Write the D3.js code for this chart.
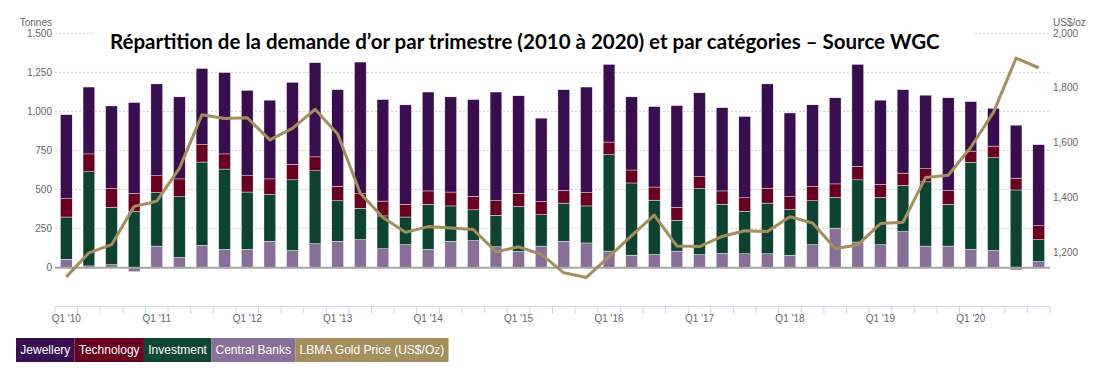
<!DOCTYPE html>
<html>
<head>
<meta charset="utf-8">
<script src="https://cdn.jsdelivr.net/npm/d3@7"></script>
<style>
  body { margin: 0; background: #fff; }
  svg { display: block; font-family: "Liberation Sans", Arial, sans-serif; }
</style>
</head>
<body>
<svg id="chart" width="1108" height="371"></svg>
<script>
// quarters Q1 2010 .. Q4 2020
const years = ['10', '11', '12', '13', '14', '15', '16', '17', '18', '19', '20'];
const quarters = [];
years.forEach(y => ['Q1', 'Q2', 'Q3', 'Q4'].forEach(q => quarters.push(q + " '" + y)));

// tonnes
const centralBanks = [54,11,19,-26,138,65,143,117,117,169,110,153,169,179,121,147,117,169,173,134,104,138,169,158,106,80,84,106,84,91,89,89,80,147,253,164,147,231,138,138,117,110,-15,39];
const investment = [270,603,368,361,342,389,533,514,367,300,452,467,259,201,210,177,289,226,197,201,287,201,244,237,618,462,348,197,422,315,272,324,292,281,196,398,302,296,411,268,557,594,497,140];
const technology = [117,114,119,114,108,114,111,97,104,99,99,89,93,93,95,82,85,89,86,93,84,85,82,85,80,83,84,84,77,85,86,93,82,91,87,86,83,78,84,87,72,74,76,89];
const jewellery = [538,428,529,582,588,525,488,521,547,504,525,603,618,843,650,636,633,609,620,696,625,533,644,676,497,468,515,650,536,533,521,670,536,523,551,653,540,534,471,594,317,242,339,519];
// US$/oz
const goldPrice = [1109,1197,1227,1367,1386,1506,1702,1688,1691,1610,1652,1722,1632,1415,1326,1272,1293,1288,1282,1201,1219,1192,1124,1107,1183,1260,1335,1222,1220,1257,1278,1275,1329,1306,1213,1226,1304,1309,1473,1481,1583,1711,1909,1874];

const leftTicks = [0, 250, 500, 750, 1000, 1250, 1500];
const rightTicks = [1200, 1400, 1600, 1800, 2000];

const series = [
  { key: 'cb', name: 'Central Banks', color: '#876f97', values: centralBanks },
  { key: 'inv', name: 'Investment', color: '#0c4431', values: investment },
  { key: 'tech', name: 'Technology', color: '#690020', values: technology },
  { key: 'jew', name: 'Jewellery', color: '#380e4e', values: jewellery }
];
const legendItems = [
  { name: 'Jewellery', color: '#3a0f52' },
  { name: 'Technology', color: '#6a0020' },
  { name: 'Investment', color: '#0d4731' },
  { name: 'Central Banks', color: '#88709a' },
  { name: 'LBMA Gold Price (US$/Oz)', color: '#a68f5f' }
];
const lineColor = '#a38f5d';

const svg = d3.select('#chart');
const plotLeft = 55, plotRight = 1050, plotTop = 33.3, plotBottom = 306.7;

const x = d3.scaleBand().domain(quarters).range([plotLeft, plotRight])
  .paddingInner(0.48).paddingOuter(0.24);
const y = d3.scaleLinear().domain([-250, 1500]).range([plotBottom, plotTop]);
const y2 = d3.scaleLinear().domain([1000, 2000]).range([plotBottom, plotTop]);

// gridlines
svg.append('g').selectAll('line')
  .data(leftTicks.filter(d => d !== 0))
  .enter().append('line')
  .attr('x1', plotLeft).attr('x2', plotRight)
  .attr('y1', d => y(d)).attr('y2', d => y(d))
  .attr('stroke', '#d0d0d0').attr('stroke-dasharray', '2,2');

// stacked bars
const table = quarters.map((q, i) => {
  const row = { q: q };
  series.forEach(s => { row[s.key] = s.values[i]; });
  return row;
});
const stack = d3.stack().keys(series.map(s => s.key)).offset(d3.stackOffsetDiverging);
const layers = stack(table);

svg.append('g').selectAll('g')
  .data(layers)
  .enter().append('g')
  .attr('fill', (d, i) => series[i].color)
  .selectAll('rect')
  .data(d => d)
  .enter().append('rect')
  .attr('x', d => x(d.data.q))
  .attr('width', x.bandwidth())
  .attr('y', d => y(Math.max(d[0], d[1])))
  .attr('height', d => Math.abs(y(d[0]) - y(d[1])))
  .attr('stroke', '#fff').attr('stroke-width', 0.4);

// zero line
svg.append('line')
  .attr('x1', plotLeft).attr('x2', plotRight)
  .attr('y1', y(0)).attr('y2', y(0))
  .attr('stroke', '#a6a6a6').attr('stroke-width', 2);

// gold price line
const line = d3.line()
  .x((d, i) => x(quarters[i]) + x.bandwidth() / 2)
  .y(d => y2(d));
svg.append('path')
  .datum(goldPrice)
  .attr('d', line)
  .attr('fill', 'none')
  .attr('stroke', lineColor)
  .attr('stroke-width', 3)
  .attr('stroke-linejoin', 'round');

// x axis
const xAxis = svg.append('g');
xAxis.append('line')
  .attr('x1', plotLeft).attr('x2', plotRight)
  .attr('y1', plotBottom).attr('y2', plotBottom)
  .attr('stroke', '#ccd6eb');
xAxis.selectAll('.tick')
  .data(d3.range(quarters.length + 1))
  .enter().append('line')
  .attr('x1', i => plotLeft + i * x.step()).attr('x2', i => plotLeft + i * x.step())
  .attr('y1', plotBottom).attr('y2', plotBottom + 7)
  .attr('stroke', '#ccd6eb');
xAxis.selectAll('text')
  .data(quarters.filter(q => q.startsWith('Q1')))
  .enter().append('text')
  .attr('x', d => x(d) + x.bandwidth() / 2)
  .attr('y', 322)
  .attr('text-anchor', 'middle')
  .attr('font-size', 10)
  .attr('fill', '#666')
  .text(d => d);

// left axis
svg.append('g').selectAll('text')
  .data(leftTicks)
  .enter().append('text')
  .attr('x', 52).attr('y', d => y(d) + 3.5)
  .attr('text-anchor', 'end')
  .attr('font-size', 10).attr('fill', '#666')
  .text(d => d3.format(',')(d));
svg.append('text')
  .attr('x', 52).attr('y', 26)
  .attr('text-anchor', 'end')
  .attr('font-size', 10).attr('fill', '#666')
  .text('Tonnes');

// right axis
svg.append('g').selectAll('text')
  .data(rightTicks)
  .enter().append('text')
  .attr('x', 1053).attr('y', d => y2(d) + 3.5)
  .attr('font-size', 10).attr('fill', '#666')
  .text(d => d3.format(',')(d));
svg.append('text')
  .attr('x', 1053).attr('y', 26)
  .attr('font-size', 10).attr('fill', '#666')
  .text('US$/oz');

// title (sits on a white patch over the top gridline)
svg.append('rect')
  .attr('x', 93).attr('y', 26).attr('width', 880).attr('height', 33)
  .attr('fill', '#fff');
const title = svg.append('text')
  .attr('x', 110).attr('y', 49)
  .attr('font-family', 'Lato, "Open Sans", sans-serif')
  .attr('font-weight', 'bold')
  .attr('font-size', 20)
  .attr('fill', '#000')
  .text('Répartition de la demande d’or par trimestre (2010 à 2020) et par catégories – Source WGC');
const tw = title.node().getComputedTextLength();
title.attr('font-size', 20 * 830 / tw);

// legend
const legend = svg.append('g');
let lx = 16;
legendItems.forEach(item => {
  const g = legend.append('g');
  const rect = g.append('rect')
    .attr('x', lx).attr('y', 338).attr('height', 24)
    .attr('fill', item.color);
  const t = g.append('text')
    .attr('x', lx + 4.3).attr('y', 354)
    .attr('font-size', 12).attr('fill', '#fff')
    .text(item.name);
  const w = t.node().getComputedTextLength() + 8.6;
  rect.attr('width', w);
  lx += w;
});
</script>
</body>
</html>
